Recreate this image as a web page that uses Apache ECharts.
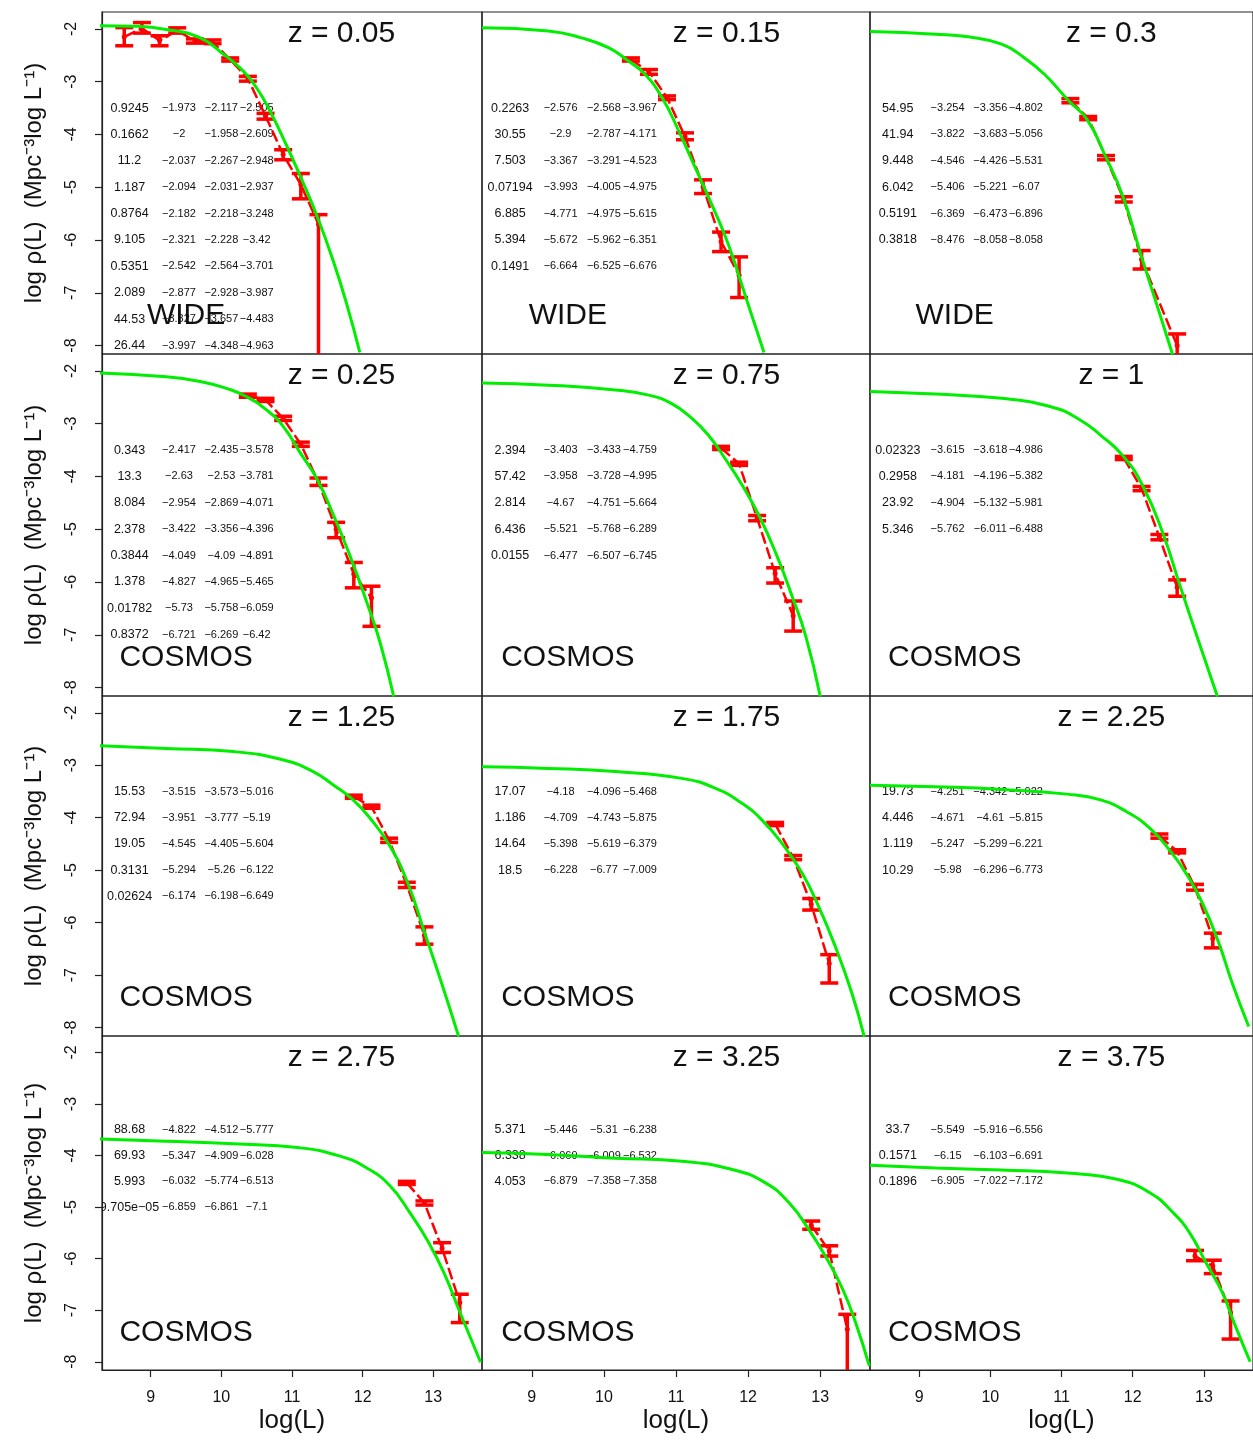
<!DOCTYPE html>
<html><head><meta charset="utf-8">
<script src="https://cdn.jsdelivr.net/npm/echarts@6/dist/echarts.min.js"></script>
<style>html,body{margin:0;padding:0;background:#fff;}#c{width:1253px;height:1440px;}</style>
</head><body><div id="c"></div>
<script>
// ---------------- data ----------------
const xTicks = [9, 10, 11, 12, 13];
const yTicks = [-8, -7, -6, -5, -4, -3, -2];
const zLabels = ['z = 0.05','z = 0.15','z = 0.3','z = 0.25','z = 0.75','z = 1','z = 1.25','z = 1.75','z = 2.25','z = 2.75','z = 3.25','z = 3.75'];
const surveyLabels = ['WIDE','WIDE','WIDE','COSMOS','COSMOS','COSMOS','COSMOS','COSMOS','COSMOS','COSMOS','COSMOS','COSMOS'];
const xTitle = 'log(L)';
const yTitle = 'log ρ(L)  (Mpc⁻³log L⁻¹)';

// green fitted curves [logL, log rho]
const fit_z005 = [[8.28,-1.94],[8.75,-1.95],[9.22,-2.01],[9.70,-2.17],[10.03,-2.48],[10.31,-2.80],[10.50,-3.12],[10.69,-3.56],[10.92,-4.20],[11.11,-4.77],[11.35,-5.53],[11.59,-6.42],[11.78,-7.24],[11.96,-8.13]];
const fit_z015 = [[8.31,-1.98],[9.23,-2.04],[9.69,-2.17],[10.07,-2.36],[10.34,-2.61],[10.57,-2.86],[10.81,-3.31],[11.04,-3.94],[11.27,-4.64],[11.50,-5.34],[11.73,-6.10],[11.96,-7.05],[12.22,-8.13]];
const fit_z03  = [[8.31,-2.05],[9.23,-2.10],[9.69,-2.15],[10.16,-2.29],[10.48,-2.55],[10.76,-2.86],[11.10,-3.36],[11.36,-3.72],[11.62,-4.42],[11.87,-5.20],[12.12,-6.30],[12.38,-7.40],[12.56,-8.17]];
const fit_z025 = [[8.28,-2.04],[9.22,-2.11],[9.70,-2.20],[10.07,-2.33],[10.36,-2.49],[10.64,-2.74],[10.88,-3.06],[11.11,-3.54],[11.35,-4.04],[11.59,-4.74],[11.82,-5.50],[12.06,-6.39],[12.25,-7.16],[12.44,-8.17]];
const fit_z075 = [[8.31,-2.23],[9.23,-2.27],[10.16,-2.36],[10.62,-2.46],[10.94,-2.62],[11.22,-2.90],[11.45,-3.22],[11.68,-3.66],[11.92,-4.17],[12.15,-4.74],[12.38,-5.44],[12.61,-6.27],[12.80,-7.03],[13.00,-8.17]];
const fit_z1   = [[8.31,-2.39],[9.23,-2.44],[10.16,-2.52],[10.85,-2.68],[11.25,-2.92],[11.55,-3.22],[11.87,-3.62],[12.15,-4.20],[12.43,-5.10],[12.66,-6.05],[12.92,-7.10],[13.19,-8.17]];
const fit_z125 = [[8.28,-2.63],[9.22,-2.68],[10.17,-2.74],[10.88,-2.90],[11.30,-3.12],[11.59,-3.38],[11.85,-3.64],[12.10,-4.00],[12.39,-4.55],[12.64,-5.25],[12.88,-6.20],[13.10,-7.08],[13.36,-8.17]];
const fit_z175 = [[8.31,-3.03],[9.23,-3.06],[10.16,-3.12],[11.08,-3.25],[11.55,-3.44],[11.92,-3.73],[12.19,-4.04],[12.47,-4.49],[12.75,-5.06],[12.98,-5.70],[13.21,-6.46],[13.44,-7.35],[13.61,-8.17]];
const fit_z225 = [[8.31,-3.38],[9.23,-3.41],[10.16,-3.46],[11.08,-3.55],[11.55,-3.66],[11.92,-3.89],[12.24,-4.20],[12.52,-4.62],[12.75,-5.06],[12.98,-5.63],[13.21,-6.39],[13.40,-7.16],[13.63,-7.98]];
const fit_z275 = [[8.28,-3.68],[9.22,-3.72],[10.17,-3.77],[11.11,-3.85],[11.68,-4.01],[12.06,-4.24],[12.39,-4.59],[12.67,-5.11],[12.91,-5.63],[13.15,-6.27],[13.38,-7.05],[13.67,-8.01]];
const fit_z325 = [[8.31,-3.94],[9.23,-3.98],[10.16,-4.05],[11.08,-4.11],[11.78,-4.27],[12.24,-4.53],[12.57,-4.92],[12.84,-5.43],[13.07,-5.95],[13.31,-6.59],[13.49,-7.24],[13.68,-8.08]];
const fit_z375 = [[8.31,-4.19],[9.23,-4.24],[10.16,-4.28],[11.08,-4.34],[11.78,-4.46],[12.24,-4.72],[12.57,-5.11],[12.80,-5.50],[13.03,-6.08],[13.26,-6.66],[13.44,-7.30],[13.65,-8.00]];

// red measured points [logL, value, lower, upper]
const pts_z005 = [[8.625,-2.15,-2.32,-1.975],[8.875,-1.99,-2.08,-1.88],[9.125,-2.22,-2.32,-2.13],[9.375,-2.03,-2.08,-1.98],[9.625,-2.23,-2.27,-2.19],[9.875,-2.245,-2.28,-2.21],[10.125,-2.58,-2.61,-2.55],[10.375,-2.94,-2.99,-2.90],[10.625,-3.65,-3.71,-3.60],[10.875,-4.38,-4.48,-4.29],[11.125,-4.95,-5.22,-4.74],[11.375,-5.70,-9.50,-5.52]];
const pts_z015 = [[10.375,-2.58,-2.61,-2.55],[10.625,-2.81,-2.86,-2.77],[10.875,-3.30,-3.34,-3.27],[11.125,-4.04,-4.10,-3.97],[11.375,-4.99,-5.12,-4.86],[11.625,-6.03,-6.22,-5.85],[11.875,-6.67,-7.09,-6.32]];
const pts_z03  = [[11.125,-3.36,-3.40,-3.32],[11.375,-3.69,-3.72,-3.66],[11.625,-4.44,-4.48,-4.40],[11.875,-5.23,-5.28,-5.18],[12.125,-6.37,-6.55,-6.20],[12.625,-8.00,-9.50,-7.78]];
const pts_z025 = [[10.375,-2.47,-2.50,-2.44],[10.625,-2.55,-2.58,-2.52],[10.875,-2.90,-2.94,-2.86],[11.125,-3.39,-3.43,-3.35],[11.375,-4.11,-4.17,-4.03],[11.625,-5.00,-5.16,-4.87],[11.875,-5.85,-6.11,-5.63],[12.125,-6.30,-6.84,-6.08]];
const pts_z075 = [[11.625,-3.46,-3.49,-3.43],[11.875,-3.76,-3.79,-3.73],[12.125,-4.79,-4.84,-4.74],[12.375,-5.84,-6.02,-5.73],[12.625,-6.64,-6.93,-6.36]];
const pts_z1   = [[11.875,-3.65,-3.68,-3.62],[12.125,-4.23,-4.27,-4.19],[12.375,-5.15,-5.20,-5.10],[12.625,-6.10,-6.27,-5.96]];
const pts_z125 = [[11.875,-3.60,-3.63,-3.57],[12.125,-3.79,-3.82,-3.76],[12.375,-4.43,-4.47,-4.39],[12.625,-5.28,-5.33,-5.23],[12.875,-6.24,-6.41,-6.08]];
const pts_z175 = [[12.375,-4.12,-4.15,-4.09],[12.625,-4.76,-4.80,-4.72],[12.875,-5.65,-5.76,-5.54],[13.125,-6.78,-7.15,-6.61]];
const pts_z225 = [[12.375,-4.35,-4.39,-4.31],[12.625,-4.64,-4.67,-4.61],[12.875,-5.33,-5.38,-5.27],[13.125,-6.30,-6.48,-6.20]];
const pts_z275 = [[12.625,-4.53,-4.56,-4.50],[12.875,-4.92,-4.96,-4.88],[13.125,-5.80,-5.88,-5.69],[13.375,-6.85,-7.24,-6.69]];
const pts_z325 = [[12.875,-5.35,-5.43,-5.27],[13.125,-5.85,-5.95,-5.75],[13.375,-7.37,-9.50,-7.08]];
const pts_z375 = [[12.875,-5.95,-6.04,-5.84],[13.125,-6.14,-6.29,-6.03],[13.375,-7.05,-7.56,-6.82]];

// printed tables inside the panels
const tab_z005 = [['0.9245','−1.973','−2.117','−2.505'],['0.1662','−2','−1.958','−2.609'],['11.2','−2.037','−2.267','−2.948'],['1.187','−2.094','−2.031','−2.937'],['0.8764','−2.182','−2.218','−3.248'],['9.105','−2.321','−2.228','−3.42'],['0.5351','−2.542','−2.564','−3.701'],['2.089','−2.877','−2.928','−3.987'],['44.53','−3.327','−3.657','−4.483'],['26.44','−3.997','−4.348','−4.963']];
const tab_z015 = [['0.2263','−2.576','−2.568','−3.967'],['30.55','−2.9','−2.787','−4.171'],['7.503','−3.367','−3.291','−4.523'],['0.07194','−3.993','−4.005','−4.975'],['6.885','−4.771','−4.975','−5.615'],['5.394','−5.672','−5.962','−6.351'],['0.1491','−6.664','−6.525','−6.676']];
const tab_z03  = [['54.95','−3.254','−3.356','−4.802'],['41.94','−3.822','−3.683','−5.056'],['9.448','−4.546','−4.426','−5.531'],['6.042','−5.406','−5.221','−6.07'],['0.5191','−6.369','−6.473','−6.896'],['0.3818','−8.476','−8.058','−8.058']];
const tab_z025 = [['0.343','−2.417','−2.435','−3.578'],['13.3','−2.63','−2.53','−3.781'],['8.084','−2.954','−2.869','−4.071'],['2.378','−3.422','−3.356','−4.396'],['0.3844','−4.049','−4.09','−4.891'],['1.378','−4.827','−4.965','−5.465'],['0.01782','−5.73','−5.758','−6.059'],['0.8372','−6.721','−6.269','−6.42']];
const tab_z075 = [['2.394','−3.403','−3.433','−4.759'],['57.42','−3.958','−3.728','−4.995'],['2.814','−4.67','−4.751','−5.664'],['6.436','−5.521','−5.768','−6.289'],['0.0155','−6.477','−6.507','−6.745']];
const tab_z1   = [['0.02323','−3.615','−3.618','−4.986'],['0.2958','−4.181','−4.196','−5.382'],['23.92','−4.904','−5.132','−5.981'],['5.346','−5.762','−6.011','−6.488']];
const tab_z125 = [['15.53','−3.515','−3.573','−5.016'],['72.94','−3.951','−3.777','−5.19'],['19.05','−4.545','−4.405','−5.604'],['0.3131','−5.294','−5.26','−6.122'],['0.02624','−6.174','−6.198','−6.649']];
const tab_z175 = [['17.07','−4.18','−4.096','−5.468'],['1.186','−4.709','−4.743','−5.875'],['14.64','−5.398','−5.619','−6.379'],['18.5','−6.228','−6.77','−7.009']];
const tab_z225 = [['19.73','−4.251','−4.342','−5.022'],['4.446','−4.671','−4.61','−5.815'],['1.119','−5.247','−5.299','−6.221'],['10.29','−5.98','−6.296','−6.773']];
const tab_z275 = [['88.68','−4.822','−4.512','−5.777'],['69.93','−5.347','−4.909','−6.028'],['5.993','−6.032','−5.774','−6.513'],['9.705e−05','−6.859','−6.861','−7.1']];
const tab_z325 = [['5.371','−5.446','−5.31','−6.238'],['6.338','−6.069','−6.009','−6.532'],['4.053','−6.879','−7.358','−7.358']];
const tab_z375 = [['33.7','−5.549','−5.916','−6.556'],['0.1571','−6.15','−6.103','−6.691'],['0.1896','−6.905','−7.022','−7.172']];

const fits = [fit_z005, fit_z015, fit_z03, fit_z025, fit_z075, fit_z1, fit_z125, fit_z175, fit_z225, fit_z275, fit_z325, fit_z375];
const points = [pts_z005, pts_z015, pts_z03, pts_z025, pts_z075, pts_z1, pts_z125, pts_z175, pts_z225, pts_z275, pts_z325, pts_z375];
const tables = [tab_z005, tab_z015, tab_z03, tab_z025, tab_z075, tab_z1, tab_z125, tab_z175, tab_z225, tab_z275, tab_z325, tab_z375];

// ---------------- layout / style ----------------
const FONT = '"Liberation Sans", Arial, Helvetica, sans-serif';
const colLeft = [102, 482, 870], colWidth = [380, 388, 388];
const rowTop = [12, 354, 696, 1036], rowHeight = [342, 342, 340, 334];
const X_MIN = 8.31, X_MAX = 13.69, Y_MIN = -8.16, Y_MAX = -1.68;
const tabColX = [8.7, 9.4, 10.0, 10.5], tabRow0 = -3.5, tabStep = 0.5;
const tabFont = [12.5, 11, 11, 11];
const zPos = [11.7, -2.1], surveyPos = [9.5, -7.43];
const RED = '#ff0000', GREEN = '#00ee00';

const grid = [], xAxis = [], yAxis = [], series = [];
for (let i = 0; i < 12; i++) {
  const r = Math.floor(i / 3), c = i % 3;
  grid.push({left: colLeft[c], top: rowTop[r], width: colWidth[c], height: rowHeight[r],
    show: true, borderColor: '#222', borderWidth: 1.2, backgroundColor: 'rgba(0,0,0,0)'});
  const bottom = r === 3, left = c === 0;
  xAxis.push({gridIndex: i, type: 'value', min: X_MIN, max: X_MAX,
    axisLine: {show: bottom, lineStyle: {color: '#222', width: 1.2}},
    splitLine: {show: false},
    axisTick: {show: bottom, length: 7, customValues: xTicks, lineStyle: {color: '#222', width: 1.2}},
    axisLabel: {show: bottom, customValues: xTicks, fontSize: 16, color: '#111', margin: 20, fontFamily: FONT},
    name: bottom ? xTitle : '', nameLocation: 'middle', nameGap: 38,
    nameTextStyle: {fontSize: 26, color: '#111', fontFamily: FONT}});
  yAxis.push({gridIndex: i, type: 'value', min: Y_MIN, max: Y_MAX,
    axisLine: {show: left, lineStyle: {color: '#222', width: 1.2}},
    splitLine: {show: false},
    axisTick: {show: left, length: 7, customValues: yTicks, lineStyle: {color: '#222', width: 1.2}},
    axisLabel: {show: left, customValues: yTicks, rotate: 90, fontSize: 16, color: '#111', margin: 22, fontFamily: FONT},
    name: left ? yTitle : '', nameLocation: 'middle', nameRotate: 90, nameGap: 56,
    nameTextStyle: {fontSize: 24, color: '#111', fontFamily: FONT}});

  const pts = points[i];
  // error bars
  series.push({type: 'custom', xAxisIndex: i, yAxisIndex: i, clip: true, z: 2,
    data: pts, encode: {x: 0, y: [1, 2, 3]},
    renderItem: (params, api) => {
      const x = api.value(0);
      const pLo = api.coord([x, api.value(2)]), pHi = api.coord([x, api.value(3)]);
      const w = 9, st = {stroke: RED, lineWidth: 3.5};
      return {type: 'group', children: [
        {type: 'line', shape: {x1: pLo[0], y1: pLo[1], x2: pHi[0], y2: pHi[1]}, style: st},
        {type: 'line', shape: {x1: pLo[0] - w, y1: pLo[1], x2: pLo[0] + w, y2: pLo[1]}, style: st},
        {type: 'line', shape: {x1: pHi[0] - w, y1: pHi[1], x2: pHi[0] + w, y2: pHi[1]}, style: st}
      ]};
    }});
  // red connecting line with points
  series.push({type: 'line', xAxisIndex: i, yAxisIndex: i, z: 3,
    data: pts.map(p => [p[0], p[1]]), symbol: 'circle', symbolSize: 5,
    itemStyle: {color: RED}, lineStyle: {color: RED, width: 2.5, type: [12, 4]}, animation: false});
  // green fit
  series.push({type: 'line', xAxisIndex: i, yAxisIndex: i, z: 4,
    data: fits[i], showSymbol: false, symbol: 'none', smooth: 0.5,
    lineStyle: {color: GREEN, width: 3}, animation: false});
  // texts
  const items = [];
  tables[i].forEach((row, ri) => row.forEach((t, ci) =>
    items.push({v: [tabColX[ci], tabRow0 - tabStep * ri], t: t, f: tabFont[ci]})));
  items.push({v: zPos, t: zLabels[i], f: 30});
  items.push({v: surveyPos, t: surveyLabels[i], f: 30});
  series.push({type: 'custom', xAxisIndex: i, yAxisIndex: i, clip: true, z: 1,
    data: items.map(it => it.v), encode: {x: 0, y: 1},
    renderItem: (params, api) => {
      const it = items[params.dataIndex];
      const p = api.coord(it.v);
      return {type: 'text', x: p[0], y: p[1],
        style: {text: it.t, fill: '#111', font: it.f + 'px ' + FONT, align: 'center', verticalAlign: 'middle'}};
    }});
}

const chart = echarts.init(document.getElementById('c'), null, {renderer: 'canvas'});
chart.setOption({backgroundColor: '#fff', animation: false, textStyle: {fontFamily: FONT},
  grid, xAxis, yAxis, series});
</script></body></html>
